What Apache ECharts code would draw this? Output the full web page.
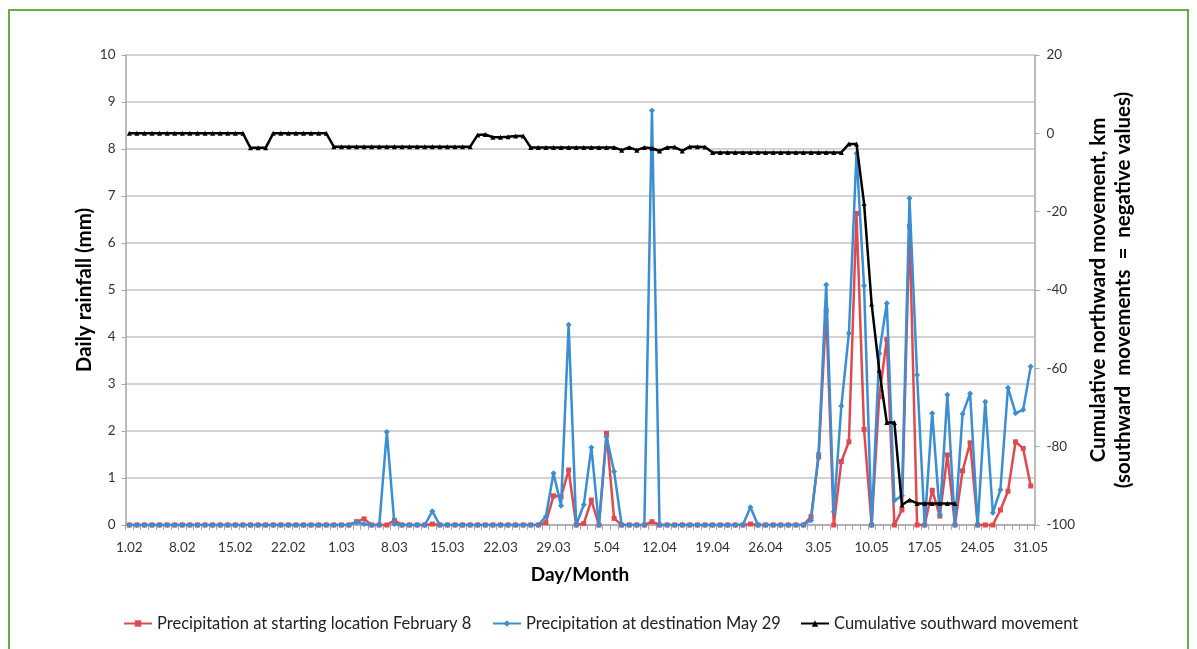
<!DOCTYPE html>
<html>
<head>
<meta charset="utf-8">
<script src="https://cdn.jsdelivr.net/npm/echarts@6/dist/echarts.min.js"></script>
<style>
html,body{margin:0;padding:0;background:#fff;}
#chart{width:1197px;height:649px;}
</style>
</head>
<body>
<div id="chart"></div>
<script>
// Month lengths for the category axis (1 Feb .. 31 May)
const months = [["02", 28], ["03", 31], ["04", 30], ["05", 31]];
const categories = [];
months.forEach(([m, n]) => { for (let d = 1; d <= n; d++) categories.push(d + "." + m); });

const seriesNames = [
  "Precipitation at starting location February 8",
  "Precipitation at destination May 29",
  "Cumulative southward movement"
];

// Daily rainfall (mm) at starting location
const rainStart = [
  0,0,0,0,0,0,0,0,0,0, 0,0,0,0,0,0,0,0,0,0, 0,0,0,0,0,0,0,0,0,0,
  0.07,0.13,0,0,0,0.10,0,0,0,0, 0.02,0,0,0,0,0,0,0,0,0, 0,0,0,0,0,0.05,0.62,0.60,1.17,0,
  0.03,0.53,0,1.95,0.14,0,0,0,0,0.07, 0,0,0,0,0,0,0,0,0,0, 0,0,0.02,0,0,0,0,0,0,0,
  0.18,1.45,4.57,0,1.35,1.77,6.63,2.03,0,2.73, 3.95,0,0.32,6.35,0,0,0.74,0.19,1.49,0, 1.15,1.75,0,0,0,0.32,0.72,1.77,1.63,0.83
];

// Daily rainfall (mm) at destination
const rainDest = [
  0,0,0,0,0,0,0,0,0,0, 0,0,0,0,0,0,0,0,0,0, 0,0,0,0,0,0,0,0,0,0,
  0.06,0.02,0,0,1.98,0.02,0,0,0,0, 0.29,0,0,0,0,0,0,0,0,0, 0,0,0,0,0,0.18,1.10,0.41,4.26,0,
  0.43,1.65,0,1.88,1.14,0,0,0,0,8.82, 0,0,0,0,0,0,0,0,0,0, 0,0,0.38,0,0,0,0,0,0,0,
  0.10,1.52,5.11,0.28,2.53,4.08,7.91,5.09,0,3.65, 4.72,0.52,0.62,6.95,3.19,0,2.38,0.22,2.77,0, 2.36,2.80,0,2.62,0.26,0.75,2.92,2.38,2.45,3.37
];

// Cumulative northward movement (km), right axis
const cumulative = [
  0,0,0,0,0,0,0,0,0,0, 0,0,0,0,0,0,-3.7,-3.7,-3.7,0, 0,0,0,0,0,0,0,-3.4,-3.4,-3.4,
  -3.4,-3.4,-3.4,-3.4,-3.4,-3.4,-3.4,-3.4,-3.4,-3.4, -3.4,-3.4,-3.4,-3.4,-3.4,-3.4,-0.4,-0.3,-1.0,-1.0,
  -0.9,-0.7,-0.7,-3.6,-3.6,-3.6,-3.6,-3.6,-3.6,-3.6, -3.6,-3.6,-3.6,-3.6,-3.6,-4.3,-3.6,-4.3,-3.6,-3.8,
  -4.5,-3.6,-3.5,-4.5,-3.4,-3.4,-3.5,-4.9,-4.9,-4.9, -4.9,-4.9,-4.9,-4.9,-4.9,-4.9,-4.9,-4.9,-4.9,-4.9,
  -4.9,-4.9,-4.9,-4.9,-4.9,-2.7,-2.7,-17.9,-43.6,-60.4, -73.8,-73.8,-94.9,-93.6,-94.5,-94.5,-94.5,-94.5,-94.5,-94.5
];

const leftTicks = { min: 0, max: 10, step: 1 };
const rightTicks = { min: -100, max: 20, step: 20 };

const FONT = "Lato, 'Open Sans', sans-serif";
const RED = "#df4a4f", BLUE = "#3a8ed3", BLACK = "#000000";

const legendCommon = {
  top: 610, itemWidth: 28, itemHeight: 8,
  textStyle: { fontFamily: FONT, fontSize: 16.5, color: "#222" }
};

const chart = echarts.init(document.getElementById("chart"), null, { renderer: "canvas" });
chart.setOption({
  animation: false,
  backgroundColor: "#ffffff",
  textStyle: { fontFamily: FONT },
  graphic: [{
    type: "rect", silent: true, z: -1,
    shape: { x: 9, y: 10, width: 1179, height: 700 },
    style: { fill: "none", stroke: "#66ad44", lineWidth: 2 }
  }],
  grid: { left: 125.5, right: 162.5, top: 55, bottom: 124 },
  legend: [
    Object.assign({ left: 118, data: [seriesNames[0]] }, legendCommon),
    Object.assign({ left: 487, data: [seriesNames[1]] }, legendCommon),
    Object.assign({ left: 795, data: [seriesNames[2]] }, legendCommon)
  ],
  xAxis: {
    type: "category",
    data: categories,
    boundaryGap: true,
    name: "Day/Month",
    nameLocation: "middle",
    nameGap: 40,
    nameTextStyle: { fontFamily: FONT, fontSize: 19, fontWeight: "bold", color: "#000" },
    axisLine: { lineStyle: { color: "#a6a6a6", width: 1.5 } },
    axisTick: { show: true, interval: 0, length: 5, lineStyle: { color: "#a6a6a6" } },
    axisLabel: { interval: 6, fontSize: 13.5, color: "#333", margin: 16, fontFamily: FONT },
    splitLine: { show: false }
  },
  yAxis: [{
    type: "value",
    min: leftTicks.min, max: leftTicks.max, interval: leftTicks.step,
    name: "Daily rainfall (mm)",
    nameLocation: "middle", nameRotate: 90, nameGap: 31, nameMoveOverlap: false,
    nameTextStyle: { fontFamily: FONT, fontSize: 20.5, fontWeight: "bold", color: "#000" },
    axisLine: { show: true, lineStyle: { color: "#a6a6a6", width: 1.5 } },
    axisTick: { show: true, length: 4, lineStyle: { color: "#a6a6a6" } },
    axisLabel: { fontSize: 13.5, color: "#333", margin: 10, fontFamily: FONT },
    splitLine: { show: true, lineStyle: { color: "#c4c4c4", width: 1.5 } }
  }, {
    type: "value",
    position: "right",
    alignTicks: false,
    min: rightTicks.min, max: rightTicks.max, interval: rightTicks.step,
    name: "Cumulative northward movement, km\n(southward  movements  =  negative values)",
    nameLocation: "middle", nameRotate: 90, nameGap: 48,
    nameTextStyle: { fontFamily: FONT, fontSize: 20.5, fontWeight: "bold", color: "#000", lineHeight: 25 },
    axisLine: { show: true, lineStyle: { color: "#a6a6a6", width: 1.5 } },
    axisTick: { show: true, length: 5, lineStyle: { color: "#a6a6a6" } },
    axisLabel: { fontSize: 13.5, color: "#333", margin: 12, fontFamily: FONT },
    splitLine: { show: false }
  }],
  series: [{
    name: seriesNames[0], type: "line", yAxisIndex: 0, data: rainStart,
    symbol: "rect", symbolSize: 5, showAllSymbol: true,
    lineStyle: { color: RED, width: 2.5 }, itemStyle: { color: RED }, z: 2
  }, {
    name: seriesNames[1], type: "line", yAxisIndex: 0, data: rainDest,
    symbol: "diamond", symbolSize: 6, showAllSymbol: true,
    lineStyle: { color: BLUE, width: 2.5 }, itemStyle: { color: BLUE }, z: 3
  }, {
    name: seriesNames[2], type: "line", yAxisIndex: 1, data: cumulative,
    symbol: "triangle", symbolSize: 5, showAllSymbol: true,
    lineStyle: { color: BLACK, width: 2.5 }, itemStyle: { color: BLACK }, z: 4
  }]
});
</script>
</body>
</html>
